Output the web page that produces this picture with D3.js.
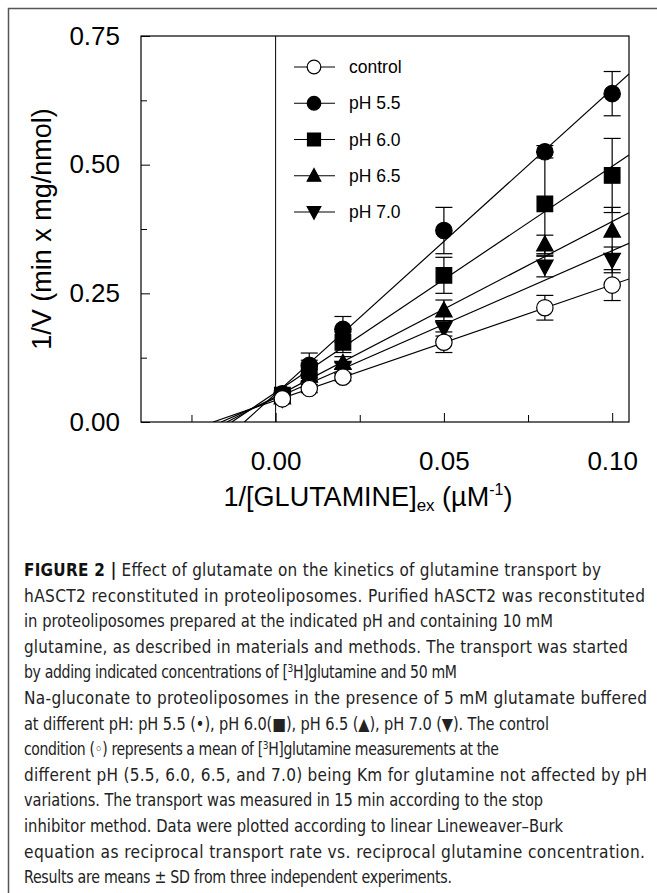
<!DOCTYPE html>
<html>
<head>
<meta charset="utf-8">
<script src="https://cdn.jsdelivr.net/npm/d3@7"></script>
<style>
  body { margin: 0; background: #fff; }
  svg { display: block; }
</style>
</head>
<body>
<div id="chart"></div>
<script>
// Data (1/[glutamine] in uM^-1, 1/V in min x mg/nmol)
const xValues = [0.002, 0.01, 0.02, 0.05, 0.08, 0.1];

const control = [0.045, 0.065, 0.087, 0.155, 0.222, 0.266];
const controlSD = [0.005, 0.008, 0.007, 0.02, 0.024, 0.03];
const ph55 = [0.055, 0.11, 0.18, 0.372, 0.525, 0.638];
const ph55SD = [0.006, 0.024, 0.025, 0.045, 0.012, 0.043];
const ph60 = [0.052, 0.1, 0.155, 0.285, 0.424, 0.479];
const ph60SD = [0.006, 0.02, 0.02, 0.035, 0.1, 0.072];
const ph65 = [0.048, 0.09, 0.115, 0.217, 0.345, 0.372];
const ph65SD = [0.005, 0.012, 0.012, 0.02, 0.018, 0.045];
const ph70 = [0.045, 0.08, 0.105, 0.182, 0.302, 0.315];
const ph70SD = [0.005, 0.012, 0.01, 0.015, 0.02, 0.025];

const seriesNames = ["control", "pH 5.5", "pH 6.0", "pH 6.5", "pH 7.0"];
const seriesShapes = ["openCircle", "circle", "square", "triUp", "triDown"];
const yTicksMajor = [0, 0.25, 0.5, 0.75];
const yTicksMinor = [0.125, 0.375, 0.625];
const xTicksMajor = [0, 0.05, 0.1];
const xTicksMinor = [-0.025, 0.025, 0.075];

const series = [
  { name: seriesNames[0], shape: seriesShapes[0], y: control, sd: controlSD },
  { name: seriesNames[1], shape: seriesShapes[1], y: ph55, sd: ph55SD },
  { name: seriesNames[2], shape: seriesShapes[2], y: ph60, sd: ph60SD },
  { name: seriesNames[3], shape: seriesShapes[3], y: ph65, sd: ph65SD },
  { name: seriesNames[4], shape: seriesShapes[4], y: ph70, sd: ph70SD }
];

const W = 657, H = 893;
const margin = { top: 36, left: 141 };
const width = 488, height = 386;

const svg = d3.select("#chart").append("svg")
  .attr("width", W).attr("height", H)
  .style("font-family", "'Liberation Sans', Arial, sans-serif");

// outer frame (open at right/bottom, cropped)
svg.append("path")
  .attr("d", `M8.5,${H} V8.5 H${W}`)
  .attr("fill", "none").attr("stroke", "#555").attr("stroke-width", 1.5);

const x = d3.scaleLinear().domain([-0.04, 0.105]).range([margin.left, margin.left + width]);
const y = d3.scaleLinear().domain([0, 0.75]).range([margin.top + height, margin.top]);

svg.append("clipPath").attr("id", "plotclip")
  .append("rect")
  .attr("x", x(-0.04)).attr("y", y(0.75))
  .attr("width", width).attr("height", height);

// axes with inward ticks
svg.append("g")
  .attr("transform", `translate(${margin.left},0)`)
  .call(d3.axisLeft(y).tickValues(yTicksMajor).tickSize(-9).tickPadding(21)
    .tickFormat(d3.format(".2f")));
svg.append("g")
  .attr("transform", `translate(${margin.left},0)`)
  .call(d3.axisLeft(y).tickValues(yTicksMinor).tickSize(-6).tickFormat(""));

svg.append("g")
  .attr("transform", `translate(0,${margin.top + height})`)
  .call(d3.axisBottom(x).tickValues(xTicksMajor).tickSize(-9).tickPadding(30)
    .tickFormat(d3.format(".2f")));
svg.append("g")
  .attr("transform", `translate(0,${margin.top + height})`)
  .call(d3.axisBottom(x).tickValues(xTicksMinor).tickSize(-7).tickFormat(""));

svg.selectAll(".domain").remove();
svg.selectAll(".tick line").attr("stroke", "#000").attr("stroke-width", 1);
svg.selectAll(".tick text").attr("font-size", 26).attr("fill", "#000")
  .attr("font-family", "'Liberation Sans', Arial, sans-serif");

// plot frame and zero line
svg.append("rect")
  .attr("x", x(-0.04)).attr("y", y(0.75))
  .attr("width", width).attr("height", height)
  .attr("fill", "none").attr("stroke", "#000").attr("stroke-width", 1.2);
svg.append("line")
  .attr("x1", x(0)).attr("x2", x(0))
  .attr("y1", y(0)).attr("y2", y(0.75))
  .attr("stroke", "#000").attr("stroke-width", 1);

// least-squares fit of each series (Lineweaver-Burk lines)
function fit(xs, ys) {
  const mx = d3.mean(xs), my = d3.mean(ys);
  let sxy = 0, sxx = 0;
  xs.forEach((v, i) => { sxy += (v - mx) * (ys[i] - my); sxx += (v - mx) * (v - mx); });
  const slope = sxy / sxx;
  return { slope, intercept: my - slope * mx };
}

const lineGen = d3.line().x(d => x(d[0])).y(d => y(d[1]));
const fits = svg.append("g").attr("clip-path", "url(#plotclip)");
series.forEach(s => {
  const f = fit(xValues, s.y);
  const x0 = -f.intercept / f.slope;
  const pts = [[x0, 0], [0.105, f.intercept + f.slope * 0.105]];
  fits.append("path").attr("d", lineGen(pts))
    .attr("fill", "none").attr("stroke", "#000").attr("stroke-width", 1.2);
});

// marker shapes
function shapePath(shape, r) {
  if (shape === "square") return `M${-r},${-r}H${r}V${r}H${-r}Z`;
  if (shape === "triUp") return `M0,${-r * 1.05}L${r},${r * 0.8}L${-r},${r * 0.8}Z`;
  if (shape === "triDown") return `M0,${r * 1.05}L${r},${-r * 0.8}L${-r},${-r * 0.8}Z`;
  return d3.symbol(d3.symbolCircle, Math.PI * r * r)();
}

// error bars
const capW = 8.5;
series.forEach(s => {
  const g = svg.append("g");
  xValues.forEach((xv, i) => {
    const cx = x(xv), top = y(s.y[i] + s.sd[i]), bot = y(s.y[i] - s.sd[i]);
    g.append("line").attr("x1", cx).attr("x2", cx).attr("y1", top).attr("y2", bot)
      .attr("stroke", "#000").attr("stroke-width", 1.2);
    [top, bot].forEach(yy => g.append("line")
      .attr("x1", cx - capW).attr("x2", cx + capW).attr("y1", yy).attr("y2", yy)
      .attr("stroke", "#000").attr("stroke-width", 1.2));
  });
});

// markers (control drawn last so its open circles stay visible like the figure)
[1, 2, 3, 4, 0].forEach(k => {
  const s = series[k];
  svg.append("g").selectAll("path")
    .data(xValues.map((xv, i) => [xv, s.y[i]]))
    .join("path")
    .attr("transform", d => `translate(${x(d[0])},${y(d[1])})`)
    .attr("d", shapePath(s.shape, s.shape === "square" ? 7.8 : 8.2))
    .attr("fill", s.shape === "openCircle" ? "#fff" : "#000")
    .attr("stroke", "#000").attr("stroke-width", 1.2);
});

// legend
const legend = svg.append("g");
const legendY = d3.scaleLinear().domain([0, 4]).range([67, 212]);
series.forEach((s, i) => {
  const ly = legendY(i);
  legend.append("line").attr("x1", 294).attr("x2", 335).attr("y1", ly).attr("y2", ly)
    .attr("stroke", "#000").attr("stroke-width", 1.2);
  legend.append("path").attr("transform", `translate(314,${ly})`)
    .attr("d", shapePath(s.shape, s.shape === "square" ? 6.5 : 6.8))
    .attr("fill", s.shape === "openCircle" ? "#fff" : "#000")
    .attr("stroke", "#000").attr("stroke-width", 1.2);
  legend.append("text").attr("x", 349).attr("y", ly).attr("dy", "0.35em")
    .attr("font-size", 17.5).attr("fill", "#000").text(s.name);
});

// axis titles
svg.append("text")
  .attr("transform", `translate(42,${y(0.375)}) rotate(-90)`)
  .attr("text-anchor", "middle").attr("dy", "0.35em")
  .attr("font-size", 27).attr("fill", "#000")
  .text("1/V (min x mg/nmol)");

const xt = svg.append("text")
  .attr("x", 368).attr("y", 506)
  .attr("text-anchor", "middle")
  .attr("font-size", 27).attr("fill", "#000");
xt.append("tspan").text("1/[GLUTAMINE]");
xt.append("tspan").attr("font-size", 17).attr("dy", 5).text("ex");
xt.append("tspan").attr("dy", -5).text(" (\u00b5M");
xt.append("tspan").attr("font-size", 16).attr("dy", -11).text("-1");
xt.append("tspan").attr("dy", 11).text(")");

// caption
const captionLines = [
  [["b", "FIGURE 2 |"], ["", " Effect of glutamate on the kinetics of glutamine transport by"]],
  [["", "hASCT2 reconstituted in proteoliposomes. Purified hASCT2 was reconstituted"]],
  [["", "in proteoliposomes prepared at the indicated pH and containing 10 mM"]],
  [["", "glutamine, as described in materials and methods. The transport was started"]],
  [["", "by adding indicated concentrations of ["], ["s", "3"], ["", "H]glutamine and 50 mM"]],
  [["", "Na-gluconate to proteoliposomes in the presence of 5 mM glutamate buffered"]],
  [["", "at different pH: pH 5.5 (\u2022), pH 6.0(\u25a0), pH 6.5 (\u25b2), pH 7.0 (\u25bc). The control"]],
  [["", "condition (\u25e6) represents a mean of ["], ["s", "3"], ["", "H]glutamine measurements at the"]],
  [["", "different pH (5.5, 6.0, 6.5, and 7.0) being Km for glutamine not affected by pH"]],
  [["", "variations. The transport was measured in 15 min according to the stop"]],
  [["", "inhibitor method. Data were plotted according to linear Lineweaver\u2013Burk"]],
  [["", "equation as reciprocal transport rate vs. reciprocal glutamine concentration."]],
  [["", "Results are means \u00b1 SD from three independent experiments."]]
];
const captionEnds = [601, 645, 553, 628, 457, 647, 549, 499, 647, 543, 563, 645, 452];
const captionX = 24, captionY0 = 576, captionStep = 25.6;

const cap = svg.append("g")
  .style("font-family", "'Liberation Sans Narrow', 'DejaVu Sans Condensed', 'Liberation Sans', Arial, sans-serif")
  .attr("fill", "#222").attr("font-size", 17);
const capTexts = captionLines.map((parts, i) => {
  const t = cap.append("text")
    .attr("x", captionX).attr("y", captionY0 + i * captionStep);
  let shifted = false;
  parts.forEach(([kind, str]) => {
    const ts = t.append("tspan").text(str);
    if (kind === "b") ts.attr("font-weight", "bold").attr("fill", "#111");
    if (kind === "s") { ts.attr("font-size", 11).attr("dy", -6); shifted = true; }
    else if (shifted) { ts.attr("dy", 6); shifted = false; }
  });
  return t;
});
// fit each line to its measured end: half of the change by glyph width, half by letter spacing
const ratios = capTexts.map((t, i) => (captionEnds[i] - captionX) / t.node().getComputedTextLength());
const g = d3.median(ratios);
capTexts.forEach((t, i) => {
  const s = g * Math.sqrt(ratios[i] / g);
  t.attr("transform", `translate(${captionX},0) scale(${s},1) translate(${-captionX},0)`)
    .attr("textLength", (captionEnds[i] - captionX) / s)
    .attr("lengthAdjust", "spacing");
});
</script>
</body>
</html>
